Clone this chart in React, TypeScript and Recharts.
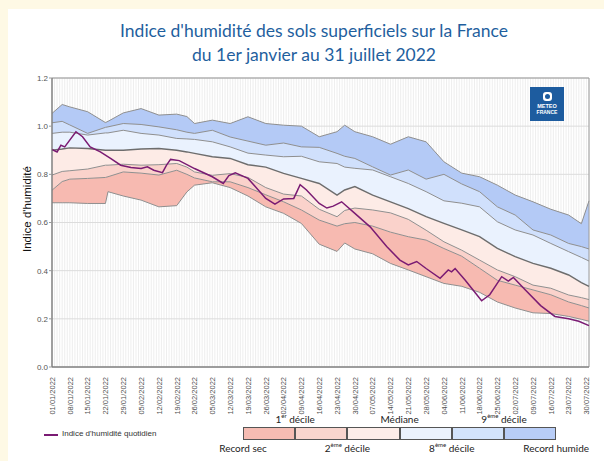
import React from 'react';
import {
  ComposedChart,
  Area,
  Line,
  XAxis,
  YAxis,
  CartesianGrid,
  ReferenceArea,
} from 'recharts';

// jours depuis le 01/01/2022
const bandDays = [0, 4, 7, 14, 21, 22, 28, 35, 42, 49, 53, 56, 63, 70, 77, 84, 91, 98, 105, 112, 115, 119, 126, 133, 140, 147, 154, 161, 168, 175, 182, 189, 196, 203, 208, 211];
const recordHumide = [1.053, 1.09, 1.08, 1.06, 1.015, 1.02, 1.055, 1.073, 1.046, 1.05, 1.04, 1.011, 1.025, 1.011, 1.039, 1.011, 1.004, 1.0, 0.956, 0.977, 1.004, 0.977, 0.956, 0.925, 0.956, 0.935, 0.852, 0.805, 0.79, 0.755, 0.714, 0.686, 0.655, 0.631, 0.595, 0.69];
const decile9 = [1.014, 1.02, 1.005, 0.97, 0.995, 0.997, 1.011, 1.007, 0.997, 0.985, 0.975, 0.97, 0.983, 0.955, 0.938, 0.921, 0.93, 0.914, 0.912, 0.887, 0.875, 0.866, 0.831, 0.797, 0.818, 0.78, 0.8, 0.76, 0.728, 0.665, 0.631, 0.569, 0.548, 0.513, 0.5, 0.49];
const decile8 = [0.97, 0.975, 0.975, 0.963, 0.972, 0.972, 0.983, 0.97, 0.963, 0.949, 0.947, 0.945, 0.935, 0.914, 0.888, 0.88, 0.873, 0.875, 0.852, 0.845, 0.83, 0.825, 0.818, 0.79, 0.762, 0.728, 0.69, 0.68, 0.665, 0.603, 0.569, 0.548, 0.513, 0.479, 0.455, 0.44];
const mediane = [0.9, 0.905, 0.91, 0.907, 0.9, 0.9, 0.9, 0.905, 0.907, 0.9, 0.893, 0.887, 0.873, 0.866, 0.84, 0.83, 0.804, 0.783, 0.762, 0.714, 0.735, 0.749, 0.714, 0.686, 0.658, 0.624, 0.596, 0.569, 0.541, 0.493, 0.458, 0.43, 0.41, 0.382, 0.35, 0.335];
const decile2 = [0.797, 0.812, 0.815, 0.822, 0.838, 0.838, 0.842, 0.838, 0.84, 0.845, 0.83, 0.81, 0.796, 0.803, 0.787, 0.745, 0.718, 0.71, 0.655, 0.624, 0.65, 0.66, 0.652, 0.64, 0.613, 0.568, 0.52, 0.485, 0.444, 0.403, 0.375, 0.34, 0.327, 0.299, 0.288, 0.28];
const decile1 = [0.734, 0.77, 0.78, 0.783, 0.787, 0.79, 0.81, 0.805, 0.797, 0.817, 0.8, 0.785, 0.769, 0.769, 0.745, 0.715, 0.686, 0.652, 0.61, 0.585, 0.595, 0.6, 0.585, 0.56, 0.541, 0.527, 0.492, 0.46, 0.41, 0.36, 0.34, 0.32, 0.3, 0.27, 0.255, 0.245];
const recordSec = [0.682, 0.682, 0.682, 0.679, 0.679, 0.728, 0.71, 0.693, 0.665, 0.67, 0.727, 0.755, 0.765, 0.745, 0.71, 0.665, 0.638, 0.596, 0.51, 0.48, 0.515, 0.49, 0.47, 0.43, 0.403, 0.375, 0.347, 0.335, 0.31, 0.27, 0.245, 0.225, 0.222, 0.21, 0.198, 0.19];

const dailyDays = [0, 2, 3.5, 5, 9.4, 12, 15, 19, 23, 27, 31, 35, 37.5, 40, 43.4, 45, 46.6, 50, 56, 63, 67.3, 69.5, 72, 77, 84, 87.6, 91, 95, 97.5, 100, 105, 108, 110.5, 113.8, 119, 125, 131.5, 136.7, 140, 143.3, 147, 152.5, 155.7, 157, 158.4, 162.3, 168.8, 172, 176.7, 179.3, 181.3, 186, 192, 197.6, 203, 207, 211];
const dailyIndex = [0.903, 0.893, 0.921, 0.914, 0.977, 0.956, 0.914, 0.893, 0.866, 0.838, 0.828, 0.824, 0.831, 0.817, 0.807, 0.838, 0.862, 0.857, 0.824, 0.79, 0.762, 0.795, 0.806, 0.783, 0.7, 0.676, 0.698, 0.7, 0.757, 0.735, 0.679, 0.66, 0.668, 0.686, 0.638, 0.582, 0.5, 0.444, 0.424, 0.438, 0.409, 0.368, 0.403, 0.395, 0.409, 0.361, 0.275, 0.3, 0.375, 0.357, 0.372, 0.32, 0.255, 0.21, 0.2, 0.19, 0.172];

const tickDays = [0, 7, 14, 21, 28, 35, 42, 49, 56, 63, 70, 77, 84, 91, 98, 105, 112, 119, 126, 133, 140, 147, 154, 161, 168, 175, 182, 189, 196, 203, 210];
const tickLabels = ['01/01/2022', '08/01/2022', '15/01/2022', '22/01/2022', '29/01/2022', '05/02/2022', '12/02/2022', '19/02/2022', '26/02/2022', '05/03/2022', '12/03/2022', '19/03/2022', '26/03/2022', '02/04/2022', '09/04/2022', '16/04/2022', '23/04/2022', '30/04/2022', '07/05/2022', '14/05/2022', '21/05/2022', '28/05/2022', '04/06/2022', '11/06/2022', '18/06/2022', '25/06/2022', '02/07/2022', '09/07/2022', '16/07/2022', '23/07/2022', '30/07/2022'];
const yTicks = [0, 0.2, 0.4, 0.6, 0.8, 1.0, 1.2];

const bandRows = bandDays.map((day, i) => ({
  day,
  min: recordSec[i],
  d1: decile1[i],
  d2: decile2[i],
  med: mediane[i],
  d8: decile8[i],
  d9: decile9[i],
  max: recordHumide[i],
}));
const dailyRows = dailyDays.map((day, i) => ({ day, v: dailyIndex[i] }));
const gridDays = Array.from({ length: 212 }, (_, i) => i);

const bands = [
  { lo: 'min', hi: 'd1', fill: '#f7bab1' },
  { lo: 'd1', hi: 'd2', fill: '#fad2cb' },
  { lo: 'd2', hi: 'med', fill: '#fdebe6' },
  { lo: 'med', hi: 'd8', fill: '#eaf2fe' },
  { lo: 'd8', hi: 'd9', fill: '#d0e0fc' },
  { lo: 'd9', hi: 'max', fill: '#b4caf6' },
];
const legendBoxes = ['#f6bcb3', '#f9d5ce', '#fdede9', '#ebf2fd', '#d3e3fb', '#b8cdf7'];

const TITLE_FONT = 'Lato, "Open Sans", sans-serif';
const AXIS_FONT = '"Liberation Sans", Arial, sans-serif';

const DateTick = (props: any) => {
  const { x, y, payload } = props;
  const i = tickDays.indexOf(payload.value);
  return (
    <text
      x={x}
      y={y}
      dy={2.8}
      transform={`rotate(-90 ${x} ${y})`}
      textAnchor="end"
      fontSize={7.5}
      fill="#505050"
      fontFamily={AXIS_FONT}
    >
      {tickLabels[i]}
    </text>
  );
};

const dailyGrid = (props: any) => {
  const s = props?.xAxis?.scale;
  if (typeof s === 'function') return gridDays.map((d) => s(d));
  const o = props.offset;
  return gridDays.map((d) => o.left + (d / 211) * o.width);
};

const Sup = ({ children }: { children: React.ReactNode }) => (
  <sup style={{ fontSize: 6, verticalAlign: 'top', position: 'relative', top: -1 }}>{children}</sup>
);

export default function App() {
  const boxLeft = 243;
  const boxW = 52.2;
  const labelTop = [
    { i: 1, node: <>1<Sup>er</Sup> décile</> },
    { i: 3, node: <>Médiane</> },
    { i: 5, node: <>9<Sup>ème</Sup> décile</> },
  ];
  const labelBottom = [
    { i: 0, node: <>Record sec</> },
    { i: 2, node: <>2<Sup>ème</Sup> décile</> },
    { i: 4, node: <>8<Sup>ème</Sup> décile</> },
    { i: 6, node: <>Record humide</> },
  ];

  return (
    <div style={{ position: 'absolute', left: 0, top: 0, width: 604, height: 461, background: '#fef9e5', overflow: 'hidden' }}>
      <div style={{ position: 'absolute', left: 8, top: 9, width: 596, height: 452, background: '#ffffff' }} />

      <div style={{ position: 'absolute', left: 0, top: 19, width: 628, textAlign: 'center', fontFamily: TITLE_FONT, fontSize: 17.5, color: '#1f5f9e', lineHeight: '24px' }}>
        Indice d'humidité des sols superficiels sur la France
        <br />
        du 1er janvier au 31 juillet 2022
      </div>

      <div style={{ position: 'absolute', left: 0, top: 0 }}>
        <ComposedChart width={604} height={461} data={bandRows} margin={{ top: 78, right: 15, bottom: 0, left: 0 }}>
          <CartesianGrid
            stroke="#e6e6e6"
            strokeWidth={0.7}
            horizontal={false}
            verticalCoordinatesGenerator={dailyGrid}
          />
          <CartesianGrid stroke="#dcdcdc" vertical={false} />
          <XAxis
            type="number"
            dataKey="day"
            domain={[0, 211]}
            ticks={tickDays}
            interval={0}
            height={94}
            tick={<DateTick />}
            tickLine={false}
            tickSize={8}
            axisLine={{ stroke: '#777' }}
          />
          <YAxis
            type="number"
            domain={[0, 1.2]}
            ticks={yTicks}
            width={52}
            tickSize={3}
            tickMargin={1}
            tickFormatter={(v: number) => v.toFixed(1)}
            tick={{ fontSize: 8, fill: '#555', fontFamily: AXIS_FONT }}
            tickLine={{ stroke: '#999' }}
            axisLine={{ stroke: '#777' }}
          />
          {bands.map((b) => (
            <Area
              key={b.lo + b.hi}
              type="linear"
              dataKey={(r: any) => [r[b.lo], r[b.hi]]}
              stroke="none"
              fill={b.fill}
              fillOpacity={1}
              activeDot={false}
              isAnimationActive={false}
            />
          ))}
          {['min', 'd1', 'd2', 'd8', 'd9', 'max'].map((k) => (
            <Line key={k} type="linear" dataKey={k} stroke="#8f8f8f" strokeWidth={1} dot={false} activeDot={false} isAnimationActive={false} />
          ))}
          <Line type="linear" dataKey="med" stroke="#6d6d6d" strokeWidth={1.4} dot={false} activeDot={false} isAnimationActive={false} />
          <Line
            data={dailyRows}
            type="linear"
            dataKey="v"
            stroke="#7a1b73"
            strokeWidth={1.5}
            dot={false}
            activeDot={false}
            isAnimationActive={false}
          />
          <ReferenceArea x1={0} x2={211} y1={0} y2={1.2} fill="none" stroke="#9a9a9a" strokeWidth={1} />
        </ComposedChart>
      </div>

      <div
        style={{
          position: 'absolute',
          left: 27,
          top: 209,
          transform: 'translate(-50%, -50%) rotate(-90deg)',
          fontFamily: AXIS_FONT,
          fontSize: 11.5,
          color: '#111',
          whiteSpace: 'nowrap',
        }}
      >
        Indice d'humidité
      </div>

      <div style={{ position: 'absolute', left: 530, top: 87, width: 34, height: 34, background: '#1d5c9f', color: '#fff', fontFamily: AXIS_FONT, fontWeight: 700, textAlign: 'center' }}>
        <div style={{ width: 9, height: 9, margin: '5px auto 2px', borderRadius: 3, background: '#fff', position: 'relative' }}>
          <div style={{ position: 'absolute', left: 2, top: 2, width: 5, height: 5, borderRadius: '50%', background: '#1d5c9f' }} />
        </div>
        <div style={{ fontSize: 5.5, lineHeight: '6px' }}>METEO</div>
        <div style={{ fontSize: 5, lineHeight: '6px' }}>FRANCE</div>
      </div>

      <div style={{ position: 'absolute', left: 44, top: 434, width: 14, height: 1.6, background: '#7a1b73' }} />
      <div style={{ position: 'absolute', left: 62, top: 429, fontFamily: AXIS_FONT, fontSize: 8, color: '#333', whiteSpace: 'nowrap' }}>
        Indice d'humidité quotidien
      </div>

      {legendBoxes.map((c, i) => (
        <div
          key={c}
          style={{
            position: 'absolute',
            left: boxLeft + i * boxW,
            top: 427,
            width: boxW,
            height: 13,
            boxSizing: 'border-box',
            background: c,
            border: '1px solid #555',
          }}
        />
      ))}
      {labelTop.map((l) => (
        <div key={'t' + l.i} style={{ position: 'absolute', left: boxLeft + l.i * boxW, top: 413, transform: 'translateX(-50%)', fontFamily: TITLE_FONT, fontSize: 10, color: '#222', whiteSpace: 'nowrap' }}>
          {l.node}
        </div>
      ))}
      {labelBottom.map((l) => (
        <div key={'b' + l.i} style={{ position: 'absolute', left: boxLeft + l.i * boxW, top: 442, transform: 'translateX(-50%)', fontFamily: TITLE_FONT, fontSize: 10, color: '#222', whiteSpace: 'nowrap' }}>
          {l.node}
        </div>
      ))}
    </div>
  );
}
